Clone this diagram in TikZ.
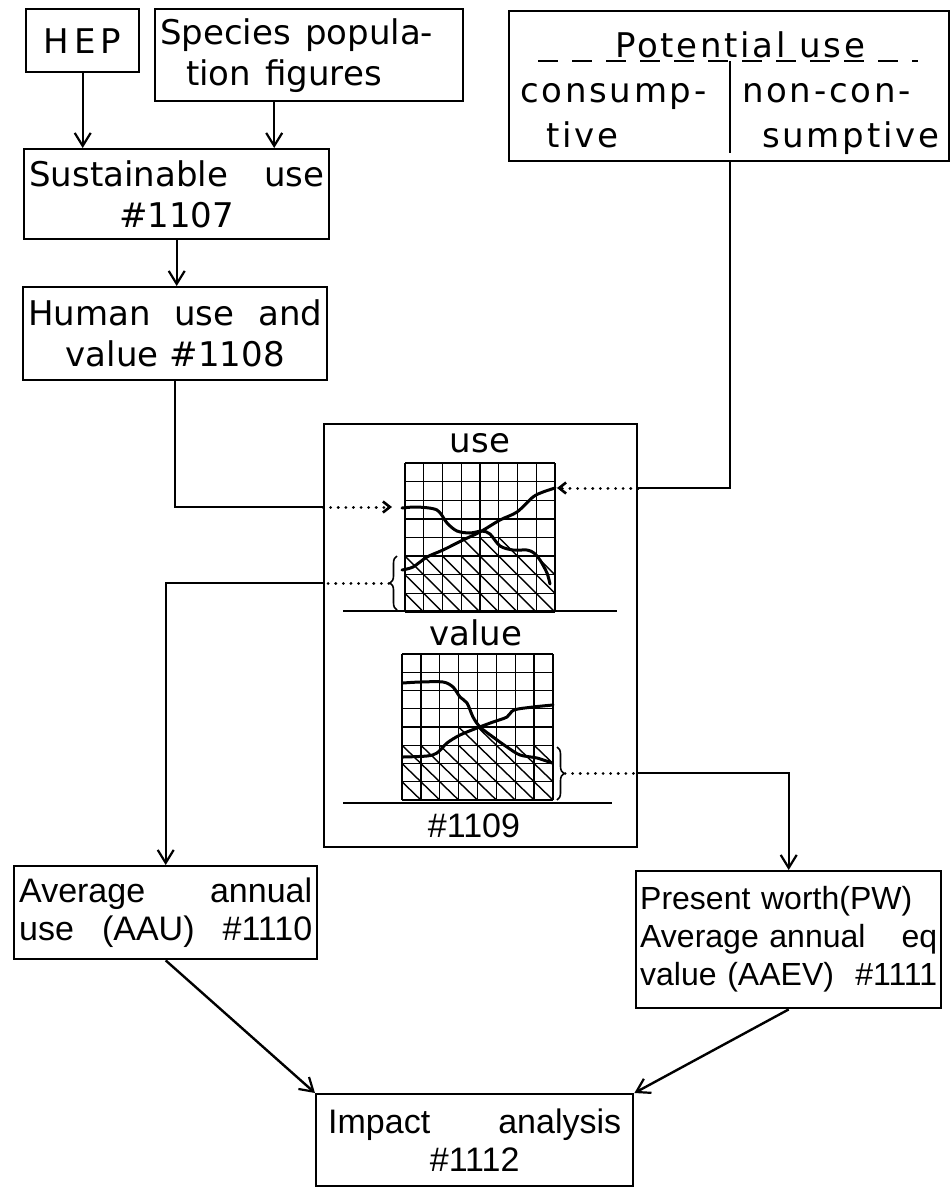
\documentclass[tikz,border=0pt]{standalone}
\usepackage{fontspec}
\setmainfont{DejaVu Sans}
\newfontfamily\narrowfont{Liberation Sans}
\newfontfamily\widefont[LetterSpace=8]{DejaVu Sans}
\usetikzlibrary{arrows.meta, positioning, calc, decorations.pathreplacing}

\begin{document}
\begin{tikzpicture}[x=1pt, y=-1pt,
    every node/.style={font=\fontsize{34}{41}\selectfont},
    box/.style={draw, line width=2.4pt, inner xsep=5pt, inner ysep=4pt, anchor=north west},
    lower/.style={font=\narrowfont\fontsize{34}{38}\selectfont},
    conn/.style={line width=2.4pt},
    arr/.style={-{Straight Barb[length=13pt,width=16pt,line width=2.2pt]}},
    dots/.style={line width=3pt, dash pattern=on 0.1pt off 7.5pt, line cap=round},
    tip/.style={-{Straight Barb[length=7pt,width=11pt,line width=2.6pt]}},
    gridline/.style={line width=1.4pt},
    curve/.style={line width=3pt, line join=round, line cap=round},
    brace/.style={line width=1.6pt, decorate, decoration={brace, amplitude=7pt}}]
    \useasboundingbox (0,0) rectangle (950,1187);

    % Input boxes
    \node[box, minimum width=113pt, minimum height=63pt] (hep) at (25,8) {\widefont H\hspace{5pt}E\hspace{5pt}P};
    \node[box, minimum width=308pt, minimum height=92pt, text width=298pt, align=left] (species) at (154,8)
        {Species\hspace{14pt}popula-\\\hspace*{26pt}tion\hspace{14pt}figures};
    \node[box, minimum width=305pt, minimum height=90pt, text width=295pt, align=center] (sust) at (23,148)
        {Sustainable\hfill use\\\#1107};
    \node[box, minimum width=304pt, minimum height=93pt, text width=294pt, align=center] (human) at (22,286)
        {Human\hfill use\hfill and\\value \#1108};

    % Potential use
    \node[box, minimum width=440pt, minimum height=150pt] (pot) at (508,10) {};
    \node[anchor=base, inner sep=0pt, font=\widefont\fontsize{34}{41}\selectfont] (title) at (740,57) {Potential use};
    \coordinate (potdiv) at (730,61);
    \draw[line width=1.8pt, dash pattern=on 20pt off 14pt] (538,61) -- (918,61);
    \draw[line width=1.8pt] (potdiv) -- (730,153);
    \node[anchor=base west, align=left, inner sep=0pt, font=\widefont\fontsize{34}{45}\selectfont] (cons) at (520,147)
        {consump-\\\hspace*{26pt}tive};
    \node[anchor=base west, align=left, inner sep=0pt, font=\widefont\fontsize{34}{45}\selectfont] (noncons) at (742,147)
        {non-con-\\\hspace*{20pt}sumptive};

    % Central chart box
    \node[box, minimum width=313pt, minimum height=423pt] (chart) at (323,423) {};
    \node[anchor=base, inner sep=0pt] (uselbl) at (480,452) {use};
    \node[anchor=base, inner sep=0pt] (vallbl) at (476,645) {value};
    \node[anchor=base, inner sep=0pt, lower] (num) at (474,837) {\#1109};
    \draw[conn] (343,611) -- (617,611);
    \draw[conn] (343,803) -- (612,803);

    % use grid
    \begin{scope}[shift={(405,463)}]
        \foreach \k in {0,...,8} {
            \draw[gridline] (\k*18.75,0) -- (\k*18.75,149);
            \draw[gridline] (0,\k*18.625) -- (150,\k*18.625);
        }
        \foreach \i in {0,...,7} \foreach \j in {5,6,7}
            \draw[gridline] (\i*18.75,\j*18.625) -- ++(18.75,18.625);
        \foreach \i in {3,4,5}
            \draw[gridline] (\i*18.75,4*18.625) -- ++(18.75,18.625);
    \end{scope}
    \draw[curve] plot[smooth] coordinates {(402,508) (417,507) (437,510) (447,523) (457,531)
        (470,533) (482,531) (490,534) (500,546) (513,550) (527,550) (534,553) (540,560) (547,573) (550,584)};
    \draw[curve] plot[smooth] coordinates {(402,570) (413,567) (427,557) (443,550) (463,540)
        (480,532) (500,520) (517,512) (533,497) (543,492) (555,488)};

    % value grid
    \begin{scope}[shift={(402,654)}]
        \foreach \k in {0,...,8} {
            \draw[gridline] (\k*18.875,0) -- (\k*18.875,146);
            \draw[gridline] (0,\k*18.25) -- (151,\k*18.25);
        }
        \foreach \i in {0,...,7} \foreach \j in {5,6,7}
            \draw[gridline] (\i*18.875,\j*18.25) -- ++(18.875,18.25);
        \foreach \i in {3,4}
            \draw[gridline] (\i*18.875,4*18.25) -- ++(18.875,18.25);
    \end{scope}
    \draw[curve] plot[smooth] coordinates {(403,683) (420,682) (443,682) (453,687) (460,697)
        (467,703) (473,717) (480,727) (493,737) (507,747) (520,755) (537,758) (552,763)};
    \draw[curve] plot[smooth] coordinates {(403,757) (427,756) (437,753) (447,743) (460,735)
        (477,728) (493,722) (507,717) (514,710) (533,707) (553,705)};

    % Braces
    \draw[brace] (397,610) -- (397,556);
    \coordinate (useBr) at (389,583);
    \draw[brace] (557,747) -- (557,800);
    \coordinate (valBr) at (565,773);
    \coordinate (useIn) at (392,507);
    \coordinate (potIn) at (557,488);

    % Output boxes
    \node[box, lower, minimum width=303pt, minimum height=93pt, text width=293pt, align=left] (avg) at (13,865)
        {Average\hfill annual\\use\hfill(AAU)\hfill\#1110};
    \node[box, lower, minimum width=305pt, minimum height=137pt, text width=297pt, inner xsep=4pt, align=left,
        font=\narrowfont\fontsize{32}{38}\selectfont] (pw) at (635,870)
        {Present worth(PW)\\Average annual\hfill eq\\value (AAEV)\hfill\#1111};
    \node[box, lower, minimum width=317pt, minimum height=92pt, text width=293pt, align=center] (impact) at (315,1093)
        {Impact\hfill analysis\\\#1112};

    % Connectors
    \draw[conn, arr] (hep.south) -- (hep.south |- sust.north);
    \draw[conn, arr] ([xshift=-35pt]species.south) -- ([xshift=-35pt]species.south |- sust.north);
    \draw[conn, arr] (sust.south) -- (sust.south |- human.north);
    \draw[conn] (human.south) |- (chart.west |- useIn);
    \draw[dots, tip] (chart.west |- useIn) -- (useIn);
    \draw[conn] (pot.south -| potdiv) |- (chart.east |- potIn);
    \draw[dots, tip] (chart.east |- potIn) -- (potIn);
    \draw[dots] (useBr) -- (chart.west |- useBr);
    \draw[conn, arr] (chart.west |- useBr) -| (avg.north);
    \draw[dots] (valBr) -- (chart.east |- valBr);
    \draw[conn, arr] (chart.east |- valBr) -| (pw.north);
    \draw[conn, arr] (avg.south) -- (impact.north west);
    \draw[conn, arr] (pw.south) -- (impact.north east);
\end{tikzpicture}
\end{document}
